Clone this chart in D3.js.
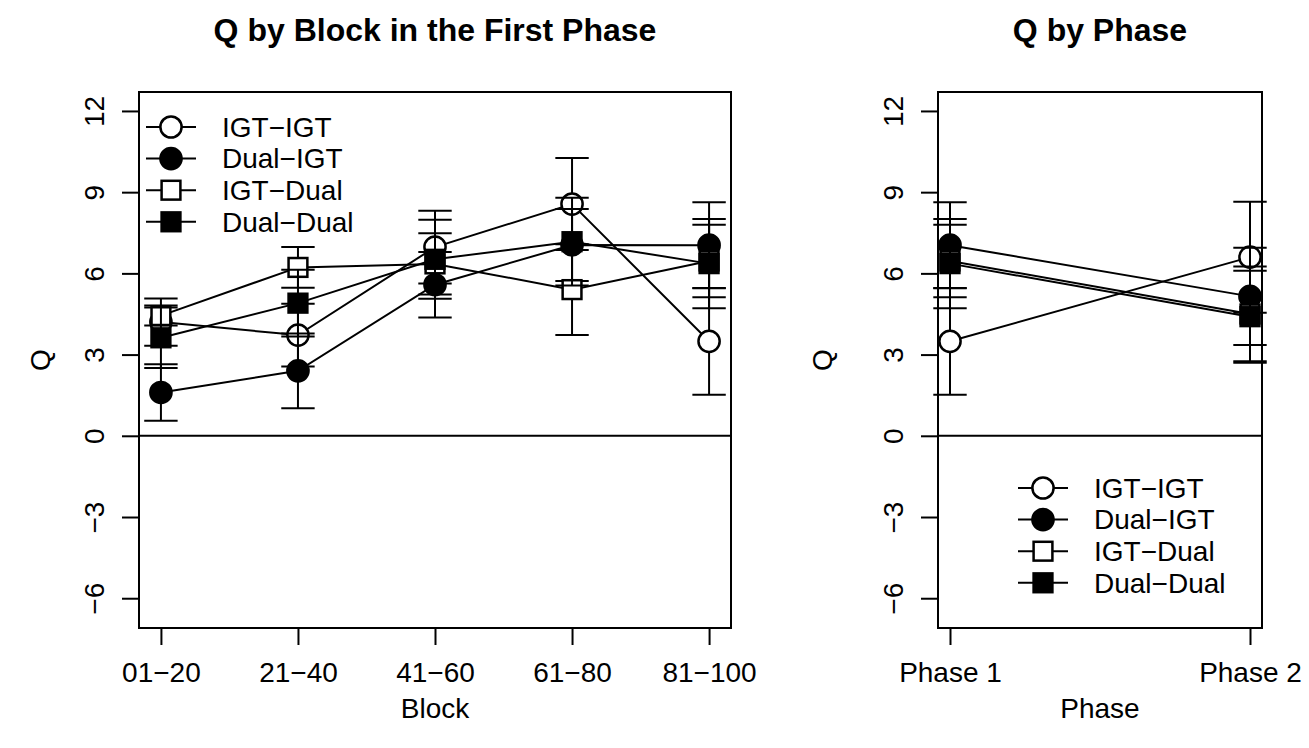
<!DOCTYPE html>
<html>
<head>
<meta charset="utf-8">
<script src="https://cdn.jsdelivr.net/npm/d3@7"></script>
<style>
  body { margin: 0; background: #fff; }
  svg text { font-family: "Liberation Sans", Arial, Helvetica, sans-serif; fill: #000; }
</style>
</head>
<body>
<div id="chart"></div>
<script>
// categories
const blockLabels = ["01−20", "21−40", "41−60", "61−80", "81−100"]
const phaseLabels = ["Phase 1", "Phase 2"]
const groupNames = ["IGT−IGT", "Dual−IGT", "IGT−Dual", "Dual−Dual"]
const yTicks = [-6, -3, 0, 3, 6, 9, 12]

// mean Q per block in the first phase
const igtIgtBlock = [4.20, 3.72, 6.97, 8.56, 3.49]
const dualIgtBlock = [1.60, 2.40, 5.58, 7.05, 7.04]
const igtDualBlock = [4.44, 6.22, 6.35, 5.40, 6.46]
const dualDualBlock = [3.62, 4.90, 6.52, 7.17, 6.36]

// error bar half widths per block
const igtIgtBlockErr = [0.87, 1.16, 1.34, 1.70, 1.97]
const dualIgtBlockErr = [1.04, 1.38, 1.21, 1.33, 1.59]
const igtDualBlockErr = [0.37, 0.75, 1.13, 1.68, 1.34]
const dualDualBlockErr = [1.12, 1.23, 1.46, 1.62, 1.65]

// mean Q per phase
const igtIgtPhase = [3.49, 6.60]
const dualIgtPhase = [7.04, 5.15]
const igtDualPhase = [6.46, 4.50]
const dualDualPhase = [6.36, 4.40]

// error bar half widths per phase
const igtIgtPhaseErr = [1.97, 2.05]
const dualIgtPhaseErr = [1.59, 1.80]
const igtDualPhaseErr = [1.34, 1.75]
const dualDualPhaseErr = [1.65, 1.70]

// symbol per group: open circle, filled circle, open square, filled square
const symbols = [
   { shape: "circle", fill: "#fff" },
   { shape: "circle", fill: "#000" },
   { shape: "square", fill: "#fff" },
   { shape: "square", fill: "#000" }
]

const W = 1309, H = 748
const FONT = 28
const LW = 2

let svg = d3.select("#chart").append("svg")
   .attr("width", W)
   .attr("height", H)

svg.append("rect").attr("width", W).attr("height", H).attr("fill", "#fff")

function drawSymbol(g, cx, cy, sym) {
   if (sym.shape === "circle") {
      g.append("circle")
         .attr("cx", cx).attr("cy", cy).attr("r", 10.6)
         .attr("fill", sym.fill).attr("stroke", "#000").attr("stroke-width", 2.5)
   } else {
      g.append("rect")
         .attr("x", cx - 9.4).attr("y", cy - 9.4)
         .attr("width", 18.8).attr("height", 18.8)
         .attr("fill", sym.fill).attr("stroke", "#000").attr("stroke-width", 2.5)
   }
}

function drawPanel(params) {
   let o = params.options
   let n = params.labels.length
   let pad = 0.04 * (n - 1)

   // set the ranges (R style 4% extension)
   let x = d3.scaleLinear()
      .domain([1 - pad, n + pad])
      .range([o.left, o.right])

   let y = d3.scaleLinear()
      .domain([-7.1, 12.7])
      .range([o.bottom, o.top])

   let g = svg.append("g").attr("class", "panel")

   // x axis
   let xAxis = g.append("g")
      .attr("transform", "translate(0," + o.bottom + ")")
      .call(d3.axisBottom(x)
         .tickValues(d3.range(1, n + 1))
         .tickFormat(function (d) { return params.labels[d - 1] })
         .tickSize(17)
         .tickSizeOuter(0)
         .tickPadding(17))
   xAxis.select(".domain").remove()
   xAxis.selectAll("line").attr("stroke", "#000").attr("stroke-width", LW)
   xAxis.selectAll("text").attr("font-size", FONT).attr("fill", "#000")
      .style("font-family", "'Liberation Sans', Arial, sans-serif")

   // y axis with rotated labels
   let yAxis = g.append("g")
      .attr("transform", "translate(" + o.left + ",0)")
      .call(d3.axisLeft(y)
         .tickValues(yTicks)
         .tickFormat(d3.format("d"))
         .tickSize(17)
         .tickSizeOuter(0))
   yAxis.select(".domain").remove()
   yAxis.selectAll("line").attr("stroke", "#000").attr("stroke-width", LW)
   yAxis.selectAll("g.tick text")
      .attr("x", null)
      .attr("dy", null)
      .attr("transform", "translate(-45,0) rotate(-90)")
      .attr("text-anchor", "middle")
      .attr("dominant-baseline", "central")
      .attr("font-size", FONT)
      .attr("fill", "#000")
      .style("font-family", "'Liberation Sans', Arial, sans-serif")

   // box
   g.append("rect")
      .attr("x", o.left).attr("y", o.top)
      .attr("width", o.right - o.left).attr("height", o.bottom - o.top)
      .attr("fill", "none").attr("stroke", "#000").attr("stroke-width", LW)

   // zero line
   g.append("line")
      .attr("x1", o.left).attr("x2", o.right)
      .attr("y1", y(0)).attr("y2", y(0))
      .attr("stroke", "#000").attr("stroke-width", LW)

   // series: error bars, then line, then points
   params.series.forEach(function (s, i) {
      let sg = g.append("g").attr("class", "series")
      let pts = s.values.map(function (v, j) { return { x: j + 1, v: v, e: s.err[j] } })

      pts.forEach(function (p) {
         let cx = x(p.x)
         sg.append("line")
            .attr("x1", cx).attr("x2", cx)
            .attr("y1", y(p.v - p.e)).attr("y2", y(p.v + p.e))
            .attr("stroke", "#000").attr("stroke-width", LW)
         ;[p.v - p.e, p.v + p.e].forEach(function (c) {
            sg.append("line")
               .attr("x1", cx - 16.7).attr("x2", cx + 16.7)
               .attr("y1", y(c)).attr("y2", y(c))
               .attr("stroke", "#000").attr("stroke-width", LW)
         })
      })

      sg.append("path")
         .datum(pts)
         .attr("fill", "none")
         .attr("stroke", "#000")
         .attr("stroke-width", LW)
         .attr("d", d3.line()
            .x(function (d) { return x(d.x) })
            .y(function (d) { return y(d.v) }))

      pts.forEach(function (p) {
         drawSymbol(sg, x(p.x), y(p.v), symbols[i])
      })
   })

   let cx = (o.left + o.right) / 2

   // title
   g.append("text")
      .attr("x", cx).attr("y", 30)
      .attr("dy", "0.35em")
      .attr("text-anchor", "middle")
      .attr("font-size", 32)
      .attr("font-weight", "bold")
      .text(params.title)

   // axis titles
   g.append("text")
      .attr("x", cx).attr("y", 708)
      .attr("dy", "0.35em")
      .attr("text-anchor", "middle")
      .attr("font-size", FONT)
      .text(params.xTitle)

   g.append("text")
      .attr("transform", "translate(" + o.qX + "," + ((o.top + o.bottom) / 2) + ") rotate(-90)")
      .attr("dy", "0.35em")
      .attr("text-anchor", "middle")
      .attr("font-size", FONT)
      .text("Q")

   // legend
   let lg = g.append("g")
      .attr("class", "legend")
      .attr("transform", "translate(" + o.legendX + "," + o.legendY + ")")

   groupNames.forEach(function (name, i) {
      let ly = i * 31.6
      lg.append("line")
         .attr("x1", -25).attr("x2", 25)
         .attr("y1", ly).attr("y2", ly)
         .attr("stroke", "#000").attr("stroke-width", LW)
      drawSymbol(lg, 0, ly, symbols[i])
      lg.append("text")
         .attr("x", 51).attr("y", ly)
         .attr("dy", "0.35em")
         .attr("font-size", FONT)
         .text(name)
   })
}

drawPanel({
   labels: blockLabels,
   title: "Q by Block in the First Phase",
   xTitle: "Block",
   series: [
      { values: igtIgtBlock, err: igtIgtBlockErr },
      { values: dualIgtBlock, err: dualIgtBlockErr },
      { values: igtDualBlock, err: igtDualBlockErr },
      { values: dualDualBlock, err: dualDualBlockErr }
   ],
   options: { left: 139, right: 731, top: 92, bottom: 628, qX: 40, legendX: 171, legendY: 127 }
})

drawPanel({
   labels: phaseLabels,
   title: "Q by Phase",
   xTitle: "Phase",
   series: [
      { values: igtIgtPhase, err: igtIgtPhaseErr },
      { values: dualIgtPhase, err: dualIgtPhaseErr },
      { values: igtDualPhase, err: igtDualPhaseErr },
      { values: dualDualPhase, err: dualDualPhaseErr }
   ],
   options: { left: 938, right: 1262, top: 92, bottom: 628, qX: 822, legendX: 1043, legendY: 488 }
})
</script>
</body>
</html>
